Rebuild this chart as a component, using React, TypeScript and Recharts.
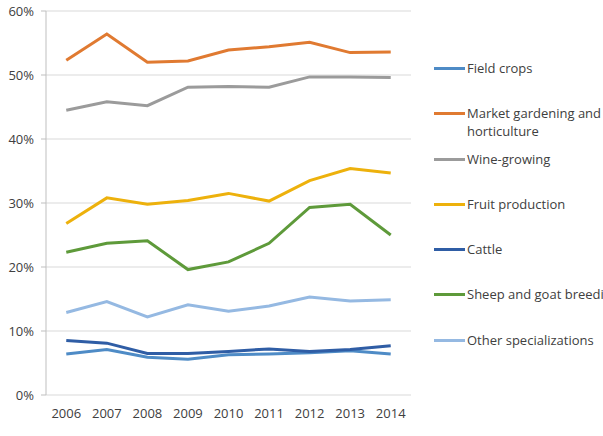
import { LineChart, Line, XAxis, YAxis, CartesianGrid } from 'recharts';

const years = ['2006', '2007', '2008', '2009', '2010', '2011', '2012', '2013', '2014'];

const fieldCrops = [6.4, 7.1, 5.9, 5.6, 6.3, 6.4, 6.6, 6.9, 6.4];
const marketGardening = [52.3, 56.4, 52.0, 52.2, 53.9, 54.4, 55.1, 53.5, 53.6];
const wineGrowing = [44.5, 45.8, 45.2, 48.1, 48.2, 48.1, 49.7, 49.7, 49.6];
const fruitProduction = [26.8, 30.8, 29.8, 30.4, 31.5, 30.3, 33.5, 35.4, 34.7];
const cattle = [8.5, 8.1, 6.5, 6.5, 6.8, 7.2, 6.8, 7.1, 7.7];
const sheepGoat = [22.3, 23.7, 24.1, 19.6, 20.8, 23.7, 29.3, 29.8, 25.0];
const otherSpecs = [12.9, 14.6, 12.2, 14.1, 13.1, 13.9, 15.3, 14.7, 14.9];

const yTicks = [0, 10, 20, 30, 40, 50, 60];
const boundaryTicks = [0, 1, 2, 3, 4, 5, 6, 7, 8, 9];

const series = [
  { key: 'field', name: 'Field crops', color: '#4E8BC6', values: fieldCrops },
  { key: 'market', name: 'Market gardening and horticulture', color: '#E07A31', values: marketGardening },
  { key: 'wine', name: 'Wine-growing', color: '#9B9B9B', values: wineGrowing },
  { key: 'fruit', name: 'Fruit production', color: '#EDB10C', values: fruitProduction },
  { key: 'cattle', name: 'Cattle', color: '#2F5DA5', values: cattle },
  { key: 'sheep', name: 'Sheep and goat breeding', color: '#5E9A3A', values: sheepGoat },
  { key: 'other', name: 'Other specializations', color: '#95B9E2', values: otherSpecs },
];

const data = years.map((year, i) => {
  const row: Record<string, string | number> = { year };
  series.forEach((s) => {
    row[s.key] = s.values[i];
  });
  return row;
});

const FONT = '"Open Sans", sans-serif';
const AXIS_GREY = '#BFBFBF';
// half of one category slot, so points sit in the middle of each year
const HALF_SLOT = 365 / years.length / 2;

// small downward mark at each boundary between years
const EdgeTick = ({ x, y }: { x: number; y: number }) => (
  <line x1={x} x2={x} y1={y} y2={y + 5} stroke={AXIS_GREY} />
);

const ChartLegend = () => (
  <div
    style={{
      position: 'absolute',
      left: 434,
      top: 59,
      width: 169,
      overflow: 'hidden',
      fontFamily: FONT,
      fontSize: 13,
      color: '#404040',
    }}
  >
    {series.map((s) => (
      <div key={s.key} style={{ display: 'flex', alignItems: 'flex-start', height: 45.3, whiteSpace: s.key === 'market' ? 'normal' : 'nowrap' }}>
        <div style={{ width: 31, height: 3, marginTop: 8, marginRight: 2, flexShrink: 0, backgroundColor: s.color }} />
        <div style={{ lineHeight: '18px', width: s.key === 'market' ? 136 : undefined }}>{s.name}</div>
      </div>
    ))}
  </div>
);

export default function App() {
  return (
    <div style={{ position: 'absolute', left: 0, top: 0, width: 603, height: 436, background: '#fff' }}>
      <LineChart width={603} height={436} data={data} margin={{ top: 11, right: 192, bottom: 11, left: 6 }}>
        <CartesianGrid vertical={false} stroke="#D9D9D9" />
        <XAxis
          xAxisId="edges"
          type="number"
          domain={[0, 9]}
          ticks={boundaryTicks}
          tick={EdgeTick}
          tickLine={false}
          tickSize={0}
          tickMargin={0}
          height={0}
          axisLine={{ stroke: AXIS_GREY }}
        />
        <XAxis
          dataKey="year"
          height={30}
          interval={0}
          padding={{ left: HALF_SLOT, right: HALF_SLOT }}
          axisLine={false}
          tickLine={false}
          tick={{ fontSize: 13, fill: '#404040', fontFamily: FONT }}
          tickMargin={8}
        />
        <YAxis
          domain={[0, 60]}
          ticks={yTicks}
          width={40}
          tickFormatter={(v) => `${v}%`}
          axisLine={{ stroke: AXIS_GREY }}
          tickLine={{ stroke: AXIS_GREY }}
          tickSize={5}
          tick={{ fontSize: 13, fill: '#404040', fontFamily: FONT, dx: -5 }}
        />
        {series.map((s) => (
          <Line
            key={s.key}
            dataKey={s.key}
            name={s.name}
            stroke={s.color}
            strokeWidth={3}
            dot={false}
            activeDot={false}
            isAnimationActive={false}
          />
        ))}
      </LineChart>
      <ChartLegend />
    </div>
  );
}
